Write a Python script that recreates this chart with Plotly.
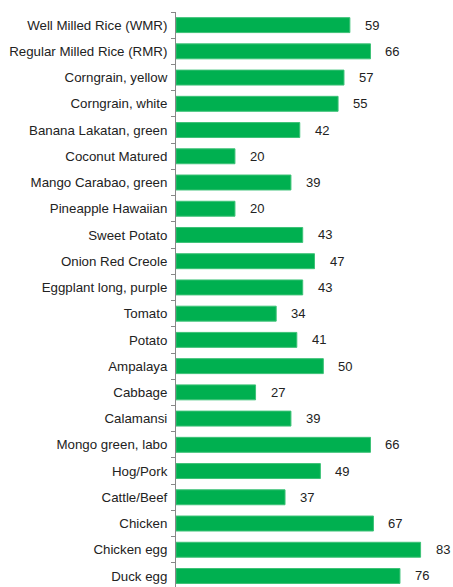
import plotly.graph_objects as go

categories = [
    "Well Milled Rice (WMR)", "Regular Milled Rice (RMR)", "Corngrain, yellow",
    "Corngrain, white", "Banana Lakatan, green", "Coconut Matured",
    "Mango Carabao, green", "Pineapple Hawaiian", "Sweet Potato",
    "Onion Red Creole", "Eggplant long, purple", "Tomato", "Potato",
    "Ampalaya", "Cabbage", "Calamansi", "Mongo green, labo", "Hog/Pork",
    "Cattle/Beef", "Chicken", "Chicken egg", "Duck egg",
]
values = [59, 66, 57, 55, 42, 20, 39, 20, 43, 47, 43, 34, 41, 50, 27, 39, 66, 49, 37, 67, 83, 76]

fig = go.Figure()
fig.add_trace(go.Bar(
    x=values, y=categories, orientation="h",
    marker=dict(color="#00B050", line=dict(color="#3DC277", width=1)),
    hoverinfo="x+y",
))

for c, v in zip(categories, values):
    fig.add_annotation(x=v, y=c, text=str(v), showarrow=False,
                       xanchor="left", xshift=13,
                       font=dict(family="Liberation Sans, Arial", size=13, color="#222222"))

fig.update_layout(
    width=453, height=587,
    margin=dict(l=176, r=0, t=12, b=0),
    plot_bgcolor="white", paper_bgcolor="white",
    bargap=0.43, showlegend=False,
    font=dict(family="Liberation Sans, Arial", size=13.3, color="#222222"),
    xaxis=dict(range=[0, 94], visible=False, showgrid=False, zeroline=False),
    yaxis=dict(
        type="category", autorange=False, range=[len(categories) - 0.58, -0.5],
        showline=True, linecolor="#888888", linewidth=1,
        ticks="outside", tickson="boundaries", ticklen=4, tickcolor="#888888",
        showgrid=False, ticklabelstandoff=5,
    ),
)

fig.write_html("out.html")
